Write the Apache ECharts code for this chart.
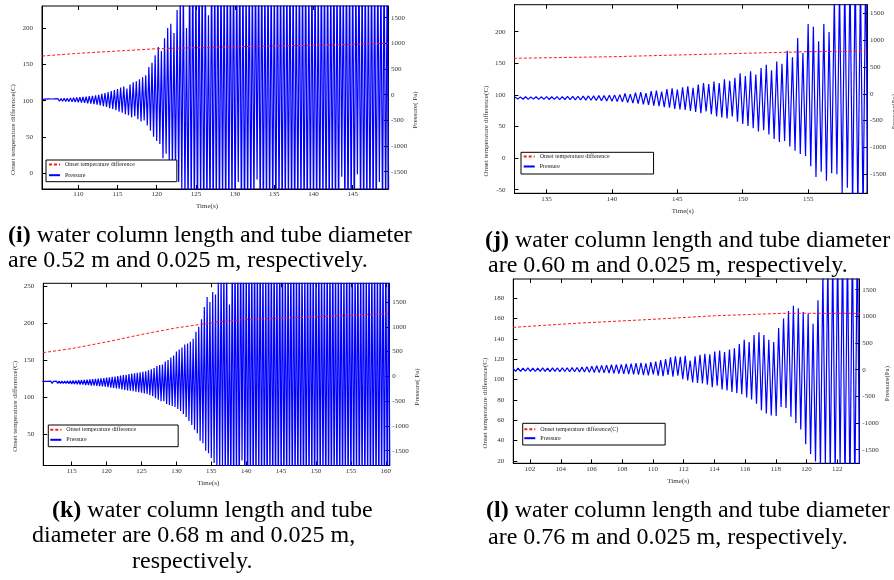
<!DOCTYPE html>
<html><head><meta charset="utf-8">
<script src="https://cdn.jsdelivr.net/npm/echarts@6/dist/echarts.min.js"></script>
<style>html,body{margin:0;padding:0;background:#fff}#c{width:894px;height:580px}</style>
</head><body><div id="c"></div>
<script>
const FONT = 'Liberation Serif';

// ---------- data (time s, value) ----------
const onsetI = [[105.4,161.4],[110,165.2],[115,168.3],[120,171.5],[125,172.9],[130,174.3],[140,176.2],[145,177.5],[149.5,179]];
const onsetJ = [[132.5,157.9],[140,160.4],[145,163.1],[150,165.8],[155,168.4],[159.5,168.6]];
const onsetK = [[110.9,160],[115,165.5],[120,174.5],[125,184.6],[130,193.6],[134,199],[136,201.7],[140,205],[150,208.6],[160.5,213]];
const onsetL = [[100.9,151.2],[105,155.2],[110,159.1],[114,162.6],[118.5,165],[123.5,165]];

const pressureI = [
[105.4,-90],[105.6,-115],[105.8,-85],[106.0,-118],[106.2,-82],[106.4,-116],[106.6,-84],[106.8,-120],[107.0,-80],[107.2,-118],
[107.4,-78],[107.6,-125],[107.8,-75],[108.0,-128],[108.2,-70],[108.4,-130],[108.6,-68],[108.8,-135],[109.0,-62],[109.2,-140],
[109.4,-60],[109.6,-145],[109.8,-55],[110.0,-150],[110.2,-50],[110.4,-155],[110.6,-45],[110.8,-160],[111.0,-40],[111.2,-170],
[111.4,-30],[111.6,-175],[111.8,-25],[112.0,-185],[112.2,-15],[112.4,-195],[112.6,-5],[112.8,-210],[113.0,15],[113.2,-225],
[113.4,30],[113.6,-240],[113.8,50],[114.0,-265],[114.2,70],[114.4,-280],[114.6,90],[114.8,-300],[115.0,110],[115.2,-330],
[115.4,140],[115.6,-350],[115.8,160],[116.0,-380],[116.2,120],[116.4,-400],[116.6,200],[116.8,-440],[117.0,240],[117.2,-420],
[117.4,260],[117.6,-480],[117.8,300],[118.0,-520],[118.2,340],[118.4,-500],[118.6,380],[118.8,-600],[119.0,540],[119.2,-700],
[119.4,620],[119.6,-820],[119.8,770],[120.0,-900],[120.2,930],[120.4,-960],[120.6,850],[120.8,-1240],[121.0,1100],[121.2,-1150],
[121.4,1300],[121.6,-1300],[121.8,1380],[122.0,-1430],[122.2,1200],[122.4,-1550],[122.6,1650],[122.8,-1700],[123.0,1900],[123.2,-1850],
[123.4,2100],[123.6,-2000],
[123.8,1300],[124.0,-2300],[124.2,2500],[124.4,-2200],[124.6,2600],[124.8,-2400],[125.0,2300],[125.2,-2500],[125.4,2700],[125.6,-2200],
[125.8,2400],[126.0,-2600],[126.2,2500],[126.4,-2300],[126.6,1550],[126.8,-2400],[127.0,2600],[127.2,-2500],[127.4,2400],[127.6,-2300],
[127.8,2700],[128.0,-2600],[128.2,2500],[128.4,-2200],[128.6,2300],[128.8,-2500],[129.0,2600],[129.2,-2400],[129.4,2500],[129.6,-2300],
[129.8,2700],[130.0,-2500],[130.2,2400],[130.4,-1700],[130.6,2600],[130.8,-2400],[131.0,2500],[131.2,-2600],[131.4,2300],[131.6,-2300],
[131.8,2700],[132.0,-2500],[132.2,2400],[132.4,-2200],[132.6,2600],[132.8,-1650],[133.0,2500],[133.2,-2400],[133.4,2700],[133.6,-2600],
[133.8,2400],[134.0,-2300],[134.2,2600],[134.4,-2500],[134.6,2500],[134.8,-2400],[135.0,2300],[135.2,-2600],[135.4,2700],[135.6,-2300],
[135.8,2500],[136.0,-2500],[136.2,2600],[136.4,-2400],[136.6,2400],[136.8,-2200],[137.0,2700],[137.2,-2500],[137.4,2500],[137.6,-2600],
[137.8,2300],[138.0,-2400],[138.2,2600],[138.4,-2300],[138.6,2500],[138.8,-2500],[139.0,2700],[139.2,-2600],[139.4,2400],[139.6,-2300],
[139.8,2600],[140.0,-2500],[140.2,2500],[140.4,-2400],[140.6,2300],[140.8,-2600],[141.0,2700],[141.2,-2300],[141.4,2500],[141.6,-2500],
[141.8,2600],[142.0,-2400],[142.2,2400],[142.4,-2200],[142.6,2700],[142.8,-2500],[143.0,2500],[143.2,-2600],[143.4,2600],[143.6,-1600],
[143.8,2300],[144.0,-2400],[144.2,2700],[144.4,-2500],[144.6,2500],[144.8,-2300],[145.0,2600],[145.2,-2600],[145.4,2400],[145.6,-1550],
[145.8,2700],[146.0,-2400],[146.2,2500],[146.4,-2500],[146.6,2600],[146.8,-2300],[147.0,2300],[147.2,-2600],[147.4,2700],[147.6,-2400],
[147.8,2500],[148.0,-2500],[148.2,2600],[148.4,-1700],[148.6,2400],[148.8,-2400],[149.0,2700],[149.2,-2300],[149.4,2500],[149.6,-2400]
];

const pressureJ = [
[132.6,-60],[132.8,-100],[133.0,-58],[133.2,-102],[133.4,-56],[133.6,-104],[133.8,-58],[134.0,-100],[134.2,-55],[134.4,-105],
[134.6,-56],[134.8,-104],[135.0,-54],[135.2,-106],[135.4,-55],[135.6,-105],[135.8,-52],[136.0,-108],[136.2,-54],[136.4,-106],
[136.6,-50],[136.8,-110],[137.0,-48],[137.2,-112],[137.4,-46],[137.6,-115],[137.8,-44],[138.0,-118],[138.2,-40],[138.4,-120],
[138.6,-38],[138.8,-124],[139.0,-34],[139.2,-128],[139.4,-30],[139.6,-132],[139.8,-25],[140.0,-138],[140.2,-20],[140.4,-145],
[140.6,-15],[140.8,-150],[141.0,5],[141.2,-165],[141.4,-5],[141.6,-175],[141.8,20],[142.0,-185],[142.2,30],[142.4,-195],
[142.6,10],[142.8,-205],[143.0,50],[143.2,-220],[143.4,60],[143.6,-230],[143.8,40],[144.0,-250],[144.2,90],[144.4,-260],
[144.6,100],[144.8,-280],[145.0,80],[145.2,-290],[145.4,120],[145.6,-300],[145.8,140],[146.0,-320],[146.2,110],[146.4,-340],
[146.6,170],[146.8,-360],[147.0,200],[147.2,-330],[147.4,180],[147.6,-380],[147.8,230],[148.0,-420],[148.2,200],[148.4,-440],
[148.6,270],[148.8,-460],[149.0,240],[149.2,-420],[149.4,300],[149.6,-520],[149.8,380],[150.0,-560],[150.2,330],[150.4,-600],
[150.6,420],[150.8,-640],[151.0,360],[151.2,-700],[151.4,480],[151.6,-680],[151.8,540],[152.0,-760],[152.2,440],[152.4,-840],
[152.6,600],[152.8,-900],[153.0,560],[153.2,-880],[153.4,800],[153.6,-980],[153.8,680],[154.0,-1060],[154.2,1040],[154.4,-1120],
[154.6,760],[154.8,-1160],[155.0,1300],[155.2,-1350],[155.4,1250],[155.6,-1550],[155.8,980],[156.0,-1450],[156.2,1300],[156.4,-1620],
[156.6,1150],[156.8,-1480],[157.0,1800],[157.2,-1500],[157.4,1950],[157.6,-1850],[157.8,2100],[158.0,-1750],[158.2,2200],[158.4,-2100],
[158.6,2300],[158.8,-2200],[159.0,2100],[159.2,-2300],[159.4,2400],[159.6,-2300]
];

const pressureK = [
[110.8,-100],[111.0,-140],[111.2,-102],[111.4,-138],[111.6,-100],[111.8,-140],[112.0,-98],[112.2,-142],[112.4,-100],[112.6,-140],
[112.8,-97],[113.0,-143],[113.2,-98],[113.4,-142],[113.6,-96],[113.8,-145],[114.0,-95],[114.2,-146],[114.4,-92],[114.6,-150],
[114.8,-88],[115.0,-155],[115.2,-85],[115.4,-158],[115.6,-82],[115.8,-160],[116.0,-78],[116.2,-165],[116.4,-75],[116.6,-168],
[116.8,-70],[117.0,-175],[117.2,-65],[117.4,-178],[117.6,-60],[117.8,-185],[118.0,-55],[118.2,-190],[118.4,-50],[118.6,-195],
[118.8,-45],[119.0,-200],[119.2,-40],[119.4,-205],[119.6,-35],[119.8,-210],[120.0,-25],[120.2,-220],[120.4,-20],[120.6,-230],
[120.8,-10],[121.0,-235],[121.2,-5],[121.4,-245],[121.6,5],[121.8,-250],[122.0,15],[122.2,-265],[122.4,25],[122.6,-275],
[122.8,30],[123.0,-285],[123.2,45],[123.4,-290],[123.6,55],[123.8,-300],[124.0,60],[124.2,-310],[124.4,70],[124.6,-320],
[124.8,80],[125.0,-330],[125.2,90],[125.4,-345],[125.6,100],[125.8,-355],[126.0,120],[126.2,-380],[126.4,140],[126.6,-400],
[126.8,170],[127.0,-440],[127.2,210],[127.4,-470],[127.6,230],[127.8,-500],
[128.0,240],[128.2,-500],[128.4,300],[128.6,-560],[128.8,330],[129.0,-580],[129.2,380],[129.4,-600],[129.6,420],[129.8,-620],
[130.0,500],[130.2,-660],[130.4,540],[130.6,-700],[130.8,580],[131.0,-760],[131.2,640],[131.4,-820],[131.6,660],[131.8,-900],
[132.0,700],[132.2,-980],[132.4,760],[132.6,-1080],[132.8,900],[133.0,-1150],[133.2,1000],[133.4,-1300],[133.6,1150],[133.8,-1350],
[134.0,1400],[134.2,-1500],[134.4,1600],[134.6,-1550],[134.8,1500],[135.0,-1650],[135.2,1700],[135.4,-1750],[135.6,1650],[135.8,-1900],
[136.0,1900],[136.2,-2000],[136.4,2100],[136.6,-1800],[136.8,2200],[137.0,-2200],
[137.2,2300],[137.4,-2400],[137.6,1450],[137.8,-2300],[138.0,2500],[138.2,-2500],[138.4,2600],[138.6,-2200],[138.8,2400],[139.0,-2600],
[139.2,2700],[139.4,-1700],[139.6,2500],[139.8,-2400],[140.0,2300],[140.2,-2500],[140.4,2600],[140.6,-2300],[140.8,2500],[141.0,-2600],
[141.2,2700],[141.4,-2400],[141.6,2400],[141.8,-2200],[142.0,2600],[142.2,-2500],[142.4,2500],[142.6,-2400],[142.8,2300],[143.0,-2600],
[143.2,2700],[143.4,-2300],[143.6,2500],[143.8,-2500],[144.0,2600],[144.2,-2400],[144.4,2400],[144.6,-2600],[144.8,2700],[145.0,-2300],
[145.2,2500],[145.4,-2500],[145.6,2300],[145.8,-2400],[146.0,2600],[146.2,-2200],[146.4,2500],[146.6,-2600],[146.8,2700],[147.0,-2400],
[147.2,2400],[147.4,-2500],[147.6,2600],[147.8,-2300],[148.0,2500],[148.2,-2600],[148.4,2300],[148.6,-2400],[148.8,2700],[149.0,-2500],
[149.2,2500],[149.4,-2300],[149.6,2600],[149.8,-2600],[150.0,2400],[150.2,-2400],[150.4,2700],[150.6,-2500],[150.8,2500],[151.0,-2200],
[151.2,2300],[151.4,-2600],[151.6,2600],[151.8,-2400],[152.0,2500],[152.2,-2500],[152.4,2700],[152.6,-2300],[152.8,2400],[153.0,-2600],
[153.2,2600],[153.4,-2400],[153.6,2500],[153.8,-2500],[154.0,2300],[154.2,-2300],[154.4,2700],[154.6,-2600],[154.8,2500],[155.0,-2400],
[155.2,2600],[155.4,-2500],[155.6,2400],[155.8,-2200],[156.0,2700],[156.2,-2600],[156.4,2500],[156.6,-2400],[156.8,2600],[157.0,-2500],
[157.2,2300],[157.4,-2300],[157.6,2700],[157.8,-2600],[158.0,2500],[158.2,-2400],[158.4,2600],[158.6,-2500],[158.8,2400],[159.0,-2600],
[159.2,2700],[159.4,-2300],[159.6,2500],[159.8,-2500],[160.0,2600],[160.2,-2400],[160.4,2500],[160.6,-2600]
];

const pressureL = [
[100.90,25],[101.06,-30],[101.22,28],[101.38,-32],[101.54,30],[101.70,-28],[101.86,32],[102.02,-30],[102.18,28],[102.34,-34],
[102.50,30],[102.66,-30],[102.82,34],[102.98,-32],[103.14,30],[103.30,-35],[103.46,35],[103.62,-30],[103.78,32],[103.94,-36],
[104.10,36],[104.26,-34],[104.42,35],[104.58,-38],[104.74,38],
[104.90,-40],[105.06,40],[105.22,-45],[105.38,48],[105.54,-42],[105.70,55],[105.86,-50],[106.02,65],[106.18,-52],[106.34,75],
[106.50,-55],[106.66,80],[106.82,-60],[106.98,85],[107.14,-62],[107.30,92],[107.46,-70],[107.62,95],[107.78,-75],[107.94,100],
[108.10,-80],[108.26,110],[108.42,-85],[108.58,115],[108.74,-90],
[108.90,125],[109.06,-95],[109.22,130],[109.38,-100],[109.54,120],[109.70,-105],[109.86,140],[110.02,-90],[110.18,150],[110.34,-110],
[110.50,180],[110.66,-120],[110.82,200],[110.98,-100],[111.14,230],[111.30,-130],[111.46,250],[111.62,-110],[111.78,240],[111.94,-180],
[112.10,260],[112.26,-200],[112.42,170],[112.58,-240],[112.74,250],
[112.90,-250],[113.06,280],[113.22,-260],[113.38,300],[113.54,-280],[113.70,290],[113.86,-330],[114.02,340],[114.18,-300],[114.34,360],
[114.50,-370],[114.66,330],[114.82,-390],[114.98,380],[115.14,-420],[115.30,400],[115.46,-440],[115.62,480],[115.78,-460],[115.94,560],
[116.10,-520],[116.26,520],[116.42,-560],[116.58,650],[116.74,-640],
[116.90,700],[117.06,-760],[117.22,650],[117.38,-820],[117.54,560],[117.70,-860],[117.86,520],[118.02,-870],[118.18,780],[118.34,-700],
[118.50,960],[118.66,-720],[118.82,1100],[118.98,-880],[119.14,1200],[119.30,-1000],[119.46,1150],[119.62,-1120],[119.78,1080],[119.94,-1400],
[120.10,1050],[120.26,-1580],[120.42,860],[120.58,-1720],[120.74,1300],
[120.90,-1850],[121.06,1800],[121.22,-1750],[121.38,2000],[121.54,-1950],[121.70,2100],[121.86,-2000],[122.02,2200],[122.18,-1800],[122.34,2300],
[122.50,-2200],[122.66,2300],[122.82,-2300],[122.98,2400],[123.14,-2300],[123.30,2500],[123.46,-2400]
];

const captions = [
  ['{b|(i)} water column length and tube diameter', 'are 0.52 m and 0.025 m, respectively.'],
  ['{b|(j)} water column length and tube diameter', 'are 0.60 m and 0.025 m, respectively.'],
  ['{b|(k)} water column length and tube', 'diameter are 0.68 m and 0.025 m,', 'respectively.'],
  ['{b|(l)} water column length and tube diameter', 'are 0.76 m and 0.025 m, respectively.']
];

// ---------- layout ----------
const panels = [
  {grid:{left:42,top:6,width:346,height:183}, x:[105.37,149.5,5], yl:[-21.6,230.3,50], yr:[-1837,1728,500],
   onset:onsetI, pres:pressureI, onsetName:'Onset temperature difference', rName:'Pressure( Pa)',
   leg:{left:46,top:160,padding:[1.5,42,3.5,2],itemGap:4.7}},
  {grid:{left:514.5,top:4.7,width:352.5,height:188.6}, x:[132.55,159.5,5], yl:[-55.7,242.7,50], yr:[-1854,1660,500],
   onset:onsetJ, pres:pressureJ, onsetName:'Onset temperature difference', rName:'Pressure(Pa)',
   leg:{left:521,top:152.3,padding:[1.2,44,4.5,1.7],itemGap:4}},
  {grid:{left:43.3,top:283.3,width:346,height:182.2}, x:[110.93,160.5,5], yl:[7,254,50], yr:[-1799,1877,500],
   onset:onsetK, pres:pressureK, onsetName:'Onset temperature difference', rName:'Pressure( Pa)',
   leg:{left:48.3,top:425,padding:[1.8,42,3.9,1],itemGap:4}},
  {grid:{left:513.3,top:279,width:346,height:184.3}, x:[100.91,123.43,2], yl:[17.7,198.7,20], yr:[-1755,1700,500],
   onset:onsetL, pres:pressureL, onsetName:'Onset temperature difference(C)', rName:'Pressure(Pa)',
   leg:{left:522.7,top:423.3,padding:[2.9,47,3.8,0.6],itemGap:3}}
];
const capPos = [
  [[8,236],[8,261]],
  [[485,241],[488,266]],
  [[52,511],[32,536],[132,562]],
  [[486,511],[488,538]]
];

const labelStyle = {fontSize:7, fontFamily:FONT, color:'#333'};
const plain = v => String(v);
const grids = [], xAxes = [], yAxes = [], series = [], legends = [], graphics = [];
const topAxes = [], rightAxes = [];

panels.forEach((p, g) => {
  grids.push(Object.assign({show:true, borderColor:'#000', borderWidth:1, backgroundColor:'transparent',
    containLabel:false, outerBoundsMode:'none'}, p.grid));
  const baseX = {type:'value', gridIndex:g, min:p.x[0], max:p.x[1], minInterval:p.x[2], maxInterval:p.x[2],
    splitLine:{show:false}};
  xAxes.push(Object.assign({}, baseX, {position:'bottom',
    axisLine:{show:true, onZero:false, lineStyle:{color:'#000', width:1}},
    axisTick:{show:true, inside:true, length:4, lineStyle:{color:'#000'}},
    axisLabel:Object.assign({margin:2, showMinLabel:false, showMaxLabel:false, formatter:plain}, labelStyle),
    name:'Time(s)', nameLocation:'middle', nameGap:14, nameMoveOverlap:false,
    nameTextStyle:Object.assign({padding:[0,16,0,0]}, labelStyle)}));
  topAxes.push(Object.assign({}, baseX, {position:'top',
    axisLine:{show:false, onZero:false}, axisTick:{show:true, inside:true, length:4, lineStyle:{color:'#000'}},
    axisLabel:{show:false}}));
  yAxes.push({type:'value', gridIndex:g, position:'left', min:p.yl[0], max:p.yl[1], minInterval:p.yl[2], maxInterval:p.yl[2],
    splitLine:{show:false},
    axisLine:{show:true, onZero:false, lineStyle:{color:'#000', width:1}},
    axisTick:{show:true, inside:true, length:4, lineStyle:{color:'#000'}},
    axisLabel:Object.assign({margin:9, showMinLabel:false, showMaxLabel:false, padding:[0,0,6,0], formatter:plain}, labelStyle),
    name:'Onset temperature difference(C)', nameLocation:'middle', nameGap:25, nameRotate:90, nameMoveOverlap:false,
    nameTextStyle:Object.assign({padding:[0,64,0,0]}, labelStyle)});
  rightAxes.push({type:'value', gridIndex:g, position:'right', min:p.yr[0], max:p.yr[1], minInterval:p.yr[2], maxInterval:p.yr[2],
    splitLine:{show:false},
    axisLine:{show:true, onZero:false, lineStyle:{color:'#000', width:1}},
    axisTick:{show:true, inside:true, length:4, lineStyle:{color:'#000'}},
    axisLabel:Object.assign({margin:3, showMinLabel:false, showMaxLabel:false, padding:[0,0,6,0], formatter:plain}, labelStyle),
    name:p.rName, nameLocation:'middle', nameGap:24, nameRotate:90, nameMoveOverlap:false,
    nameTextStyle:Object.assign({padding:[0,25,0,0]}, labelStyle)});
  series.push({type:'line', name:'Pressure', xAxisIndex:g, yAxisIndex:4+g, data:p.pres,
    symbol:'none', showSymbol:false, lineStyle:{color:'#0000ff', width:1.2}, itemStyle:{color:'#0000ff'},
    emphasis:{disabled:true}, z:2});
  series.push({type:'line', name:p.onsetName, xAxisIndex:g, yAxisIndex:g, data:p.onset,
    symbol:'none', showSymbol:false, lineStyle:{color:'#ff1a1a', width:1, type:[3,2]}, itemStyle:{color:'#ff1a1a'},
    emphasis:{disabled:true}, z:3});
  legends.push(Object.assign({data:[p.onsetName,'Pressure'], orient:'vertical', itemWidth:11, itemHeight:7,
    borderColor:'#000', borderWidth:1, backgroundColor:'#fff', selectedMode:false,
    itemStyle:{opacity:0},
    textStyle:{fontSize:6, fontFamily:FONT, color:'#222'}}, p.leg));
  captions[g].forEach((txt, k) => {
    graphics.push({type:'text', x:capPos[g][k][0], y:capPos[g][k][1], z:10,
      style:{text:txt, fontSize:24, fontFamily:FONT, fill:'#000', align:'left', verticalAlign:'middle',
        textAlign:'left', textVerticalAlign:'middle',
        rich:{b:{fontSize:24, fontFamily:FONT, fontWeight:'bold', fill:'#000'}}}});
  });
});

const chart = echarts.init(document.getElementById('c'), null, {renderer:'canvas'});
chart.setOption({
  animation:false,
  backgroundColor:'#fff',
  textStyle:{fontFamily:FONT},
  grid:grids,
  xAxis:xAxes.concat(topAxes),
  yAxis:yAxes.concat(rightAxes),
  legend:legends,
  series:series,
  graphic:graphics
});
</script>
</body></html>
